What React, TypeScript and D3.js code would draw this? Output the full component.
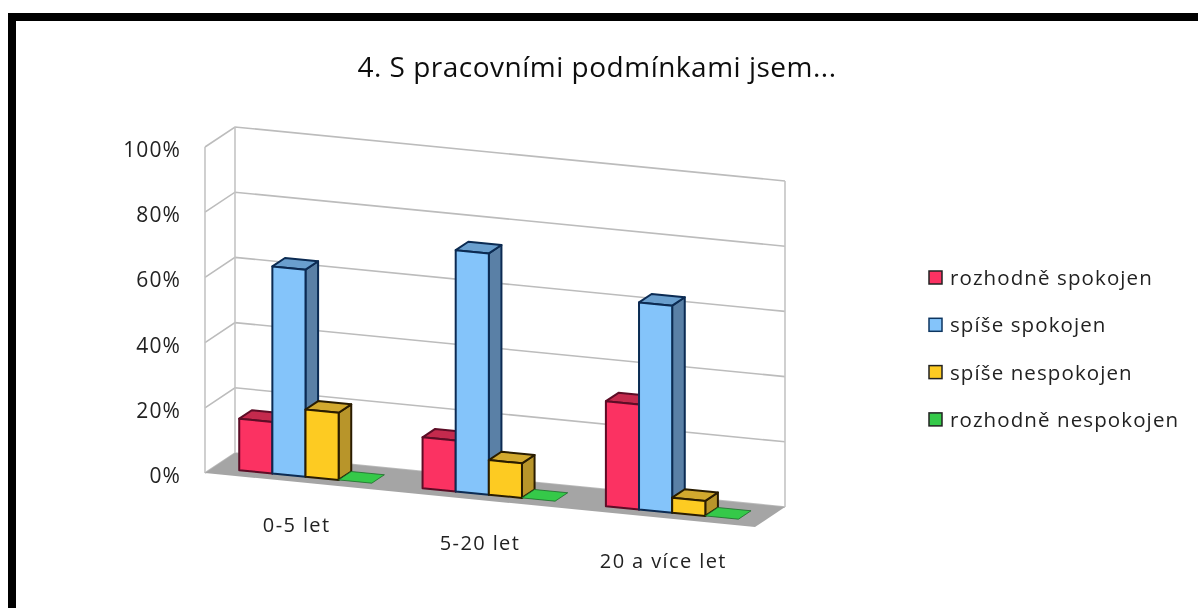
import React from "react";
import * as d3 from "d3";

const title = "4. S pracovními podmínkami jsem...";
const categories = ["0-5 let", "5-20 let", "20 a více let"];
const seriesNames = ["rozhodně spokojen", "spíše spokojen", "spíše nespokojen", "rozhodně nespokojen"];
const rozhodneSpokojen = [15.8, 15.6, 32.2];
const spiseSpokojen = [63.5, 74, 63.5];
const spiseNespokojen = [20.6, 10.6, 4.6];
const rozhodneNespokojen = [0, 0, 0];
const seriesValues = [rozhodneSpokojen, spiseSpokojen, spiseNespokojen, rozhodneNespokojen];
const yTicks = [0, 20, 40, 60, 80, 100];

const fronts = ["#fb3062", "#84c4fa", "#fdcb22", "#35c94a"];
const tops = ["#c42a4e", "#6b9fce", "#d2a92f", "#35c94a"];
const sides = ["#a81f44", "#5a80a6", "#b8952a", "#35c94a"];
const strokes = ["#5d0c26", "#082c52", "#2a1d00", "#1d6a2a"];
const font = "'Open Sans', sans-serif";
const textColor = "#222";

// 3D projection: u along categories, v in depth, h value
const uScale = d3.scaleBand<string>().domain(categories).range([0, 1]).paddingInner(0).paddingOuter(0);
const seriesScale = d3.scaleBand<string>().domain(seriesNames).range([0.0475, 0.2885]);
const hScale = d3.scaleLinear().domain([0, 100]).range([0, 326]);
const project = (u: number, v: number, h: number): [number, number] => [
  205 + 550 * u + 30 * v,
  473 + 54 * u - 20 * v - hScale(h),
];
const poly = (pts: [number, number][]) => d3.line()(pts)! + "Z";

const V0 = 0.27;
const V1 = 0.69;

export default function App() {
  const floor = poly([project(0, 0, 0), project(0, 1, 0), project(1, 1, 0), project(1, 0, 0)]);
  const bars: React.ReactNode[] = [];
  categories.forEach((c, ci) => {
    seriesNames.forEach((s, si) => {
      const val = seriesValues[si][ci];
      const u0 = uScale(c)! + seriesScale(s)!;
      const u1 = u0 + seriesScale.bandwidth();
      const st = { stroke: strokes[si], strokeWidth: 2, strokeLinejoin: "round" as const };
      const top = poly([project(u0, V0, val), project(u0, V1, val), project(u1, V1, val), project(u1, V0, val)]);
      if (val <= 0) {
        bars.push(<path key={`${ci}-${si}`} d={top} fill={fronts[si]} stroke={strokes[si]} strokeWidth={0.8} />);
        return;
      }
      bars.push(
        <g key={`${ci}-${si}`}>
          <path d={poly([project(u1, V0, 0), project(u1, V1, 0), project(u1, V1, val), project(u1, V0, val)])} fill={sides[si]} {...st} />
          <path d={top} fill={tops[si]} {...st} />
          <path d={poly([project(u0, V0, 0), project(u1, V0, 0), project(u1, V0, val), project(u0, V0, val)])} fill={fronts[si]} {...st} />
        </g>
      );
    });
  });

  return (
    <svg width={1198} height={608} style={{ position: "absolute", left: 0, top: 0, background: "#fff" }}>
      <defs>
        <filter id="soft" x="0" y="0" width="100%" height="100%">
          <feGaussianBlur stdDeviation="0.55" />
        </filter>
      </defs>
      <g filter="url(#soft)">
        <rect x={0} y={0} width={1198} height={608} fill="#fff" />
        <path d="M12 608V17H1198" fill="none" stroke="#000" strokeWidth={8} />
        <text x={597} y={77} textAnchor="middle" fontFamily={font} fontSize={28} letterSpacing={0.5} fill="#111">{title}</text>

        {/* walls */}
        {yTicks.map((t) => {
          const a = project(0, 0, t), b = project(0, 1, t), c = project(1, 1, t);
          return (
            <path key={t} d={d3.line()([a, b, c])!} fill="none" stroke="#bcbcbc" strokeWidth={1.6} />
          );
        })}
        <path d={d3.line()([project(0, 0, 0), project(0, 0, 100)])!} stroke="#c4c4c4" strokeWidth={1.6} fill="none" />
        <path d={d3.line()([project(0, 1, 0), project(0, 1, 100)])!} stroke="#c4c4c4" strokeWidth={1.6} fill="none" />
        <path d={d3.line()([project(1, 1, 0), project(1, 1, 100)])!} stroke="#c4c4c4" strokeWidth={1.6} fill="none" />
        <path d={floor} fill="#a5a5a5" />
        {bars}

        {yTicks.map((t) => (
          <text key={t} x={181} y={project(0, 0, t)[1] + 10} textAnchor="end" fontFamily={font} fontSize={21} letterSpacing={1.1} fill={textColor}>{t}%</text>
        ))}
        {categories.map((c) => {
          const [x, y] = project(uScale(c)! + uScale.bandwidth() / 2, 0, 0);
          return (
            <text key={c} x={x} y={y + 50} textAnchor="middle" fontFamily={font} fontSize={20} letterSpacing={1.4} fill={textColor}>{c}</text>
          );
        })}

        {seriesNames.map((s, i) => {
          const y = 278 + i * 47.3;
          return (
            <g key={s}>
              <rect x={929} y={y - 7} width={13} height={13} fill={fronts[i]} stroke={i === 1 ? "#0c3560" : "#222"} strokeWidth={1.5} />
              <text x={950} y={y + 7} fontFamily={font} fontSize={20.5} fill={textColor} letterSpacing={1.1}>{s}</text>
            </g>
          );
        })}
      </g>
    </svg>
  );
}
